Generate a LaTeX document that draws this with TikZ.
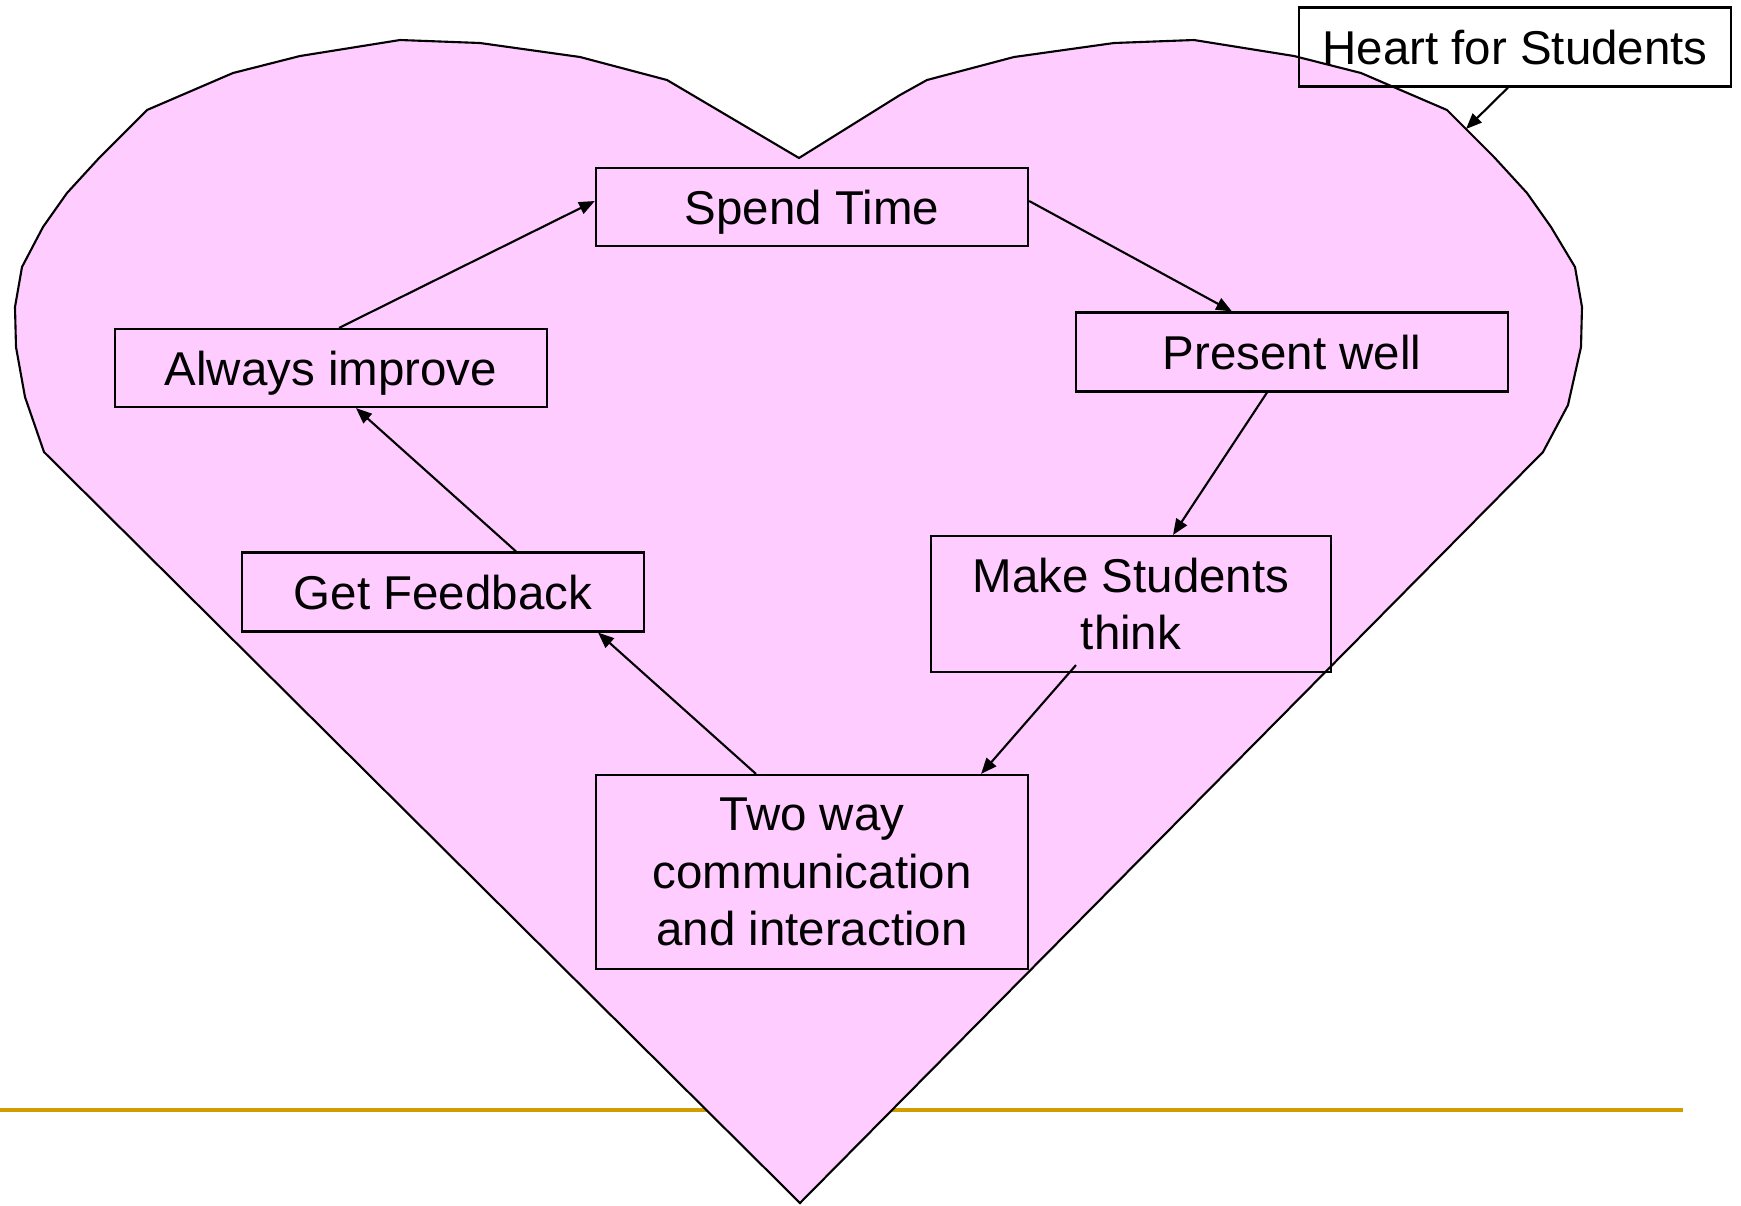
\documentclass[tikz,border=0pt]{standalone}
\usepackage{fontspec}
\setmainfont{Liberation Sans}
\usetikzlibrary{arrows.meta}
\definecolor{heartpink}{RGB}{255,204,255}
\definecolor{rulegold}{RGB}{208,158,0}

\begin{document}
\begin{tikzpicture}[x=0.01cm, y=-0.01cm,
	box/.style={shape=rectangle, draw=black, line width=0.6pt, align=center, inner sep=0pt,
		font=\fontsize{13.5}{16.4}\selectfont},
	oneline/.style={text height=9.7pt, text depth=0pt},
	link/.style={-{Triangle[length=4.5pt,width=3.6pt]}, line width=0.6pt}]
	\useasboundingbox (0,0) rectangle (1741,1205);

	\draw[rulegold, line width=1.2pt] (0,1110) -- (1683,1110);

	% heart outline
	\draw[fill=heartpink, draw=black, line width=0.6pt]
		(800,1203) -- (44,452) -- (25,397) -- (16,347) -- (15,307) -- (22,267) -- (43,227)
		-- (67,193) -- (100,157) -- (147,110) -- (233,73) -- (300,56) -- (400,40) -- (480,43)
		-- (580,57) -- (667,80) -- (799,158) -- (900,95) -- (927,80) -- (1014,57) -- (1114,43)
		-- (1194,40) -- (1294,56) -- (1361,73) -- (1447,110) -- (1494,157) -- (1527,193)
		-- (1551,227) -- (1575,267) -- (1582,307) -- (1581,347) -- (1568,405) -- (1543,452) -- cycle;
	\coordinate (rim) at (1466,129);

	\node[box, oneline, minimum width=4.31cm, minimum height=0.79cm] (label) at (1515, 47) {Heart for Students};
	\node[box, oneline, minimum width=4.32cm, minimum height=0.78cm] (spend)    at (812, 207)  {Spend Time};
	\node[box, oneline, minimum width=4.32cm, minimum height=0.79cm] (present)  at (1292, 352) {Present well};
	\node[box, oneline, minimum width=4.32cm, minimum height=0.78cm] (improve)  at (331, 368)  {Always improve};
	\node[box, oneline, minimum width=4.01cm, minimum height=0.79cm] (feedback) at (443, 592)  {Get Feedback};
	\node[box, minimum width=3.99cm, minimum height=1.36cm] (think)    at (1131, 604) {Make Students\\think};
	\node[box, minimum width=4.32cm, minimum height=1.94cm] (twoway)   at (812, 872)  {Two way\\communication\\and interaction};

	\path[link] ([xshift=0.08cm]improve.north) edge ([yshift=0.06cm]spend.west);
	\path[link] ([yshift=0.06cm]spend.east) edge ([xshift=-0.6cm]present.north);
	\path[link] ([xshift=-0.25cm]present.south) edge ([xshift=0.42cm]think.north);
	\path[link] ([xshift=-0.55cm,yshift=0.08cm]think.south) edge ([xshift=1.69cm]twoway.north);
	\path[link] ([xshift=-0.56cm]twoway.north) edge ([xshift=1.55cm]feedback.south);
	\path[link] ([xshift=0.73cm]feedback.north) edge ([xshift=0.25cm]improve.south);
	\path[link] ([xshift=-0.07cm]label.south) edge (rim);

\end{tikzpicture}
\end{document}
